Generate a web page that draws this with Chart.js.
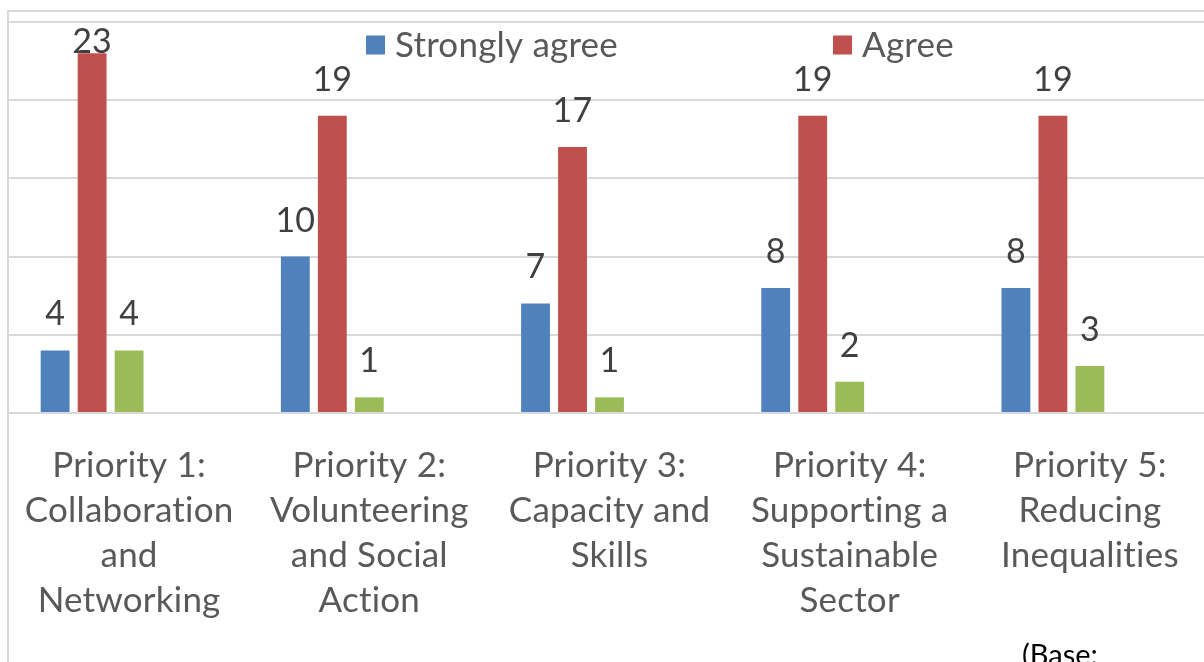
<!DOCTYPE html>
<html>
<head>
<meta charset="utf-8">
<script src="https://cdn.jsdelivr.net/npm/chart.js@4/dist/chart.umd.min.js"></script>
<style>
  html, body { margin: 0; padding: 0; background: #fff; overflow: hidden; width: 1204px; height: 662px; }
  #frame { position: absolute; left: 7px; top: 10px; width: 1300px; height: 700px;
           border-left: 2px solid #d9d9d9; border-top: 2px solid #d9d9d9; box-sizing: border-box; }
  #wrap { position: absolute; left: 0; top: 0; width: 1230px; height: 662px; }
  #base { position: absolute; left: 1022px; top: 636px; font-family: Lato, "Open Sans", sans-serif;
          font-size: 29px; color: #000; white-space: nowrap; }
</style>
</head>
<body>
<div id="frame"></div>
<div id="wrap"><canvas id="c" width="1230" height="662"></canvas></div>
<div id="base">(Base:</div>
<script>
const categories = [
  ["Priority 1:", "Collaboration", "and", "Networking"],
  ["Priority 2:", "Volunteering", "and Social", "Action"],
  ["Priority 3:", "Capacity and", "Skills"],
  ["Priority 4:", "Supporting a", "Sustainable", "Sector"],
  ["Priority 5:", "Reducing", "Inequalities"]
];
const seriesNames = ["Strongly agree", "Agree", "Neither agree nor disagree", "Disagree", "Strongly disagree"];
const stronglyAgree = [4, 10, 7, 8, 8];
const agree = [23, 19, 17, 19, 19];
const neither = [4, 1, 1, 2, 3];
const disagree = [null, null, null, null, null];
const stronglyDisagree = [null, null, null, null, null];
const seriesColors = ["#4f81bd", "#c0504d", "#9bbb59", "#8064a2", "#4bacc6"];
const yTicks = [0, 5, 10, 15, 20, 25];

const FONT = 'Lato, "Open Sans", sans-serif';

function noLigatures(ctx) {
  try { ctx.letterSpacing = '0.2px'; } catch (e) {}
  try { ctx.textRendering = 'optimizeSpeed'; } catch (e) {}
}

const ligatureOff = {
  id: 'ligatureOff',
  beforeDraw(chart) { noLigatures(chart.ctx); }
};

const valueLabels = {
  id: 'valueLabels',
  afterDatasetsDraw(chart) {
    const ctx = chart.ctx;
    ctx.save();
    noLigatures(ctx);
    ctx.font = '34px ' + FONT;
    ctx.fillStyle = '#404040';
    ctx.textAlign = 'center';
    ctx.textBaseline = 'middle';
    chart.data.datasets.forEach((ds, i) => {
      const meta = chart.getDatasetMeta(i);
      meta.data.forEach((bar, j) => {
        const v = ds.data[j];
        if (v === null || v === undefined) return;
        const y = Math.max(bar.y - 36, chart.chartArea.top + 20);
        ctx.fillText(String(v), bar.x, y);
      });
    });
    ctx.restore();
  }
};

const customLegend = {
  id: 'customLegend',
  afterDraw(chart) {
    const ctx = chart.ctx;
    ctx.save();
    noLigatures(ctx);
    ctx.font = '35px ' + FONT;
    ctx.textBaseline = 'middle';
    ctx.textAlign = 'left';
    const startX = 366, stepX = 467, cy = 45, box = 19;
    chart.data.datasets.forEach((ds, i) => {
      const x = startX + i * stepX;
      ctx.fillStyle = ds.backgroundColor;
      ctx.fillRect(x, cy - box / 2, box, box);
      ctx.fillStyle = '#595959';
      ctx.fillText(ds.label, x + box + 10, cy + 1);
    });
    ctx.restore();
  }
};

const seriesData = [stronglyAgree, agree, neither, disagree, stronglyDisagree];

new Chart(document.getElementById('c'), {
  type: 'bar',
  data: {
    labels: categories,
    datasets: seriesData.map((d, i) => ({
      label: seriesNames[i],
      data: d,
      backgroundColor: seriesColors[i],
      borderWidth: 0,
      categoryPercentage: 0.77,
      barPercentage: 0.78
    }))
  },
  options: {
    responsive: false,
    animation: false,
    events: [],
    layout: { padding: { left: 9, right: 20, top: 22, bottom: 0 } },
    plugins: { legend: { display: false }, tooltip: { enabled: false }, title: { display: false } },
    scales: {
      x: {
        grid: { display: false, drawTicks: false },
        border: { display: false },
        ticks: {
          color: '#595959',
          padding: 30,
          maxRotation: 0,
          autoSkip: false,
          font: { family: FONT, size: 35, lineHeight: '45px' }
        },
        afterFit(scale) {
          scale.height = 249;
          scale.paddingLeft = 0;
          scale.paddingRight = 0;
        }
      },
      y: {
        min: 0,
        max: 25,
        afterBuildTicks(scale) { scale.ticks = yTicks.map(v => ({ value: v })); },
        grid: { color: '#d9d9d9', lineWidth: 2, drawTicks: false },
        border: { display: false },
        ticks: { display: false },
        afterFit(scale) { scale.width = 0; scale.paddingTop = 0; scale.paddingBottom = 0; }
      }
    }
  },
  plugins: [ligatureOff, valueLabels, customLegend]
});
</script>
</body>
</html>
